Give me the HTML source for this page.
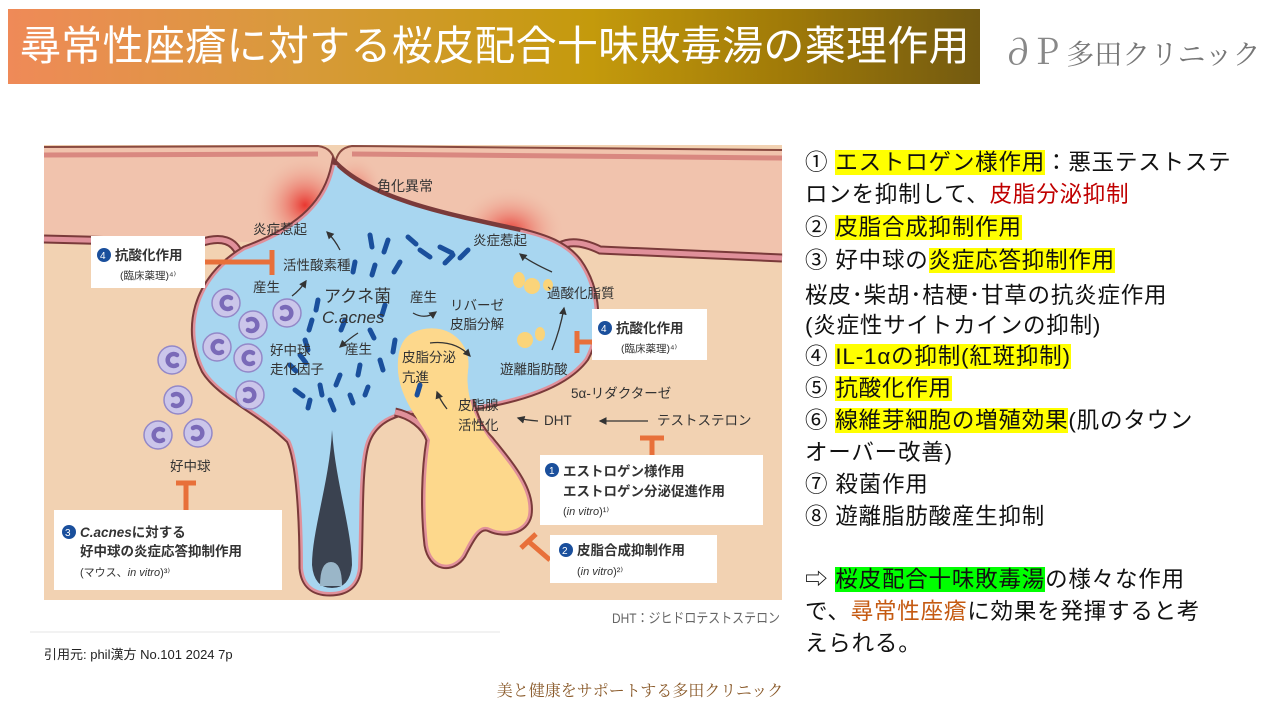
<!DOCTYPE html>
<html><head><meta charset="utf-8">
<style>
body{margin:0;width:1280px;height:720px;background:#fff;position:relative;overflow:hidden;font-family:"Liberation Sans","Noto Sans CJK JP",sans-serif;}
.title{position:absolute;left:8px;top:9px;width:972px;height:75px;background:linear-gradient(90deg,#ef8a58 0%,#d89a3a 30%,#c49a0c 60%,#a07a08 80%,#735a10 100%);}
.title span{position:absolute;left:12px;top:10px;color:#fff;font-size:41px;line-height:54px;letter-spacing:0.3px;white-space:nowrap;}
.logo{position:absolute;left:1000px;top:24px;font-family:"Noto Serif CJK SC","Liberation Serif",serif;font-size:28px;color:#777;white-space:nowrap;}
.r{position:absolute;left:805px;font-size:22.5px;letter-spacing:0.8px;white-space:nowrap;color:#111;line-height:30px;}
.y{background:#ffff00}
.g{background:#00ff00}
svg text{font-family:"Liberation Sans","Noto Sans CJK JP",sans-serif;}
</style></head><body>
<div class="title"><span>尋常性座瘡に対する桜皮配合十味敗毒湯の薬理作用</span></div>
<div class="logo"><span style="font-size:36px;color:#888">&#x2202;P</span> 多田クリニック</div>

<svg style="position:absolute;left:0;top:0" width="1280" height="720" viewBox="0 0 1280 720">
<defs>
<radialGradient id="rg1" cx="0.5" cy="0.5" r="0.5"><stop offset="0" stop-color="#e8302a" stop-opacity="0.95"/><stop offset="1" stop-color="#f0c2ad" stop-opacity="0"/></radialGradient>
<marker id="ar" markerWidth="6" markerHeight="6" refX="5" refY="3" orient="auto"><path d="M0,0 L6,3 L0,6 Z" fill="#333"/></marker>
</defs>
<rect x="44" y="145" width="738" height="455" fill="#f2d2b2"/>
<!-- epidermis -->
<path d="M44,147 L318,146 Q334,148 335,165 Q337,148 352,146 L782,150 L782,258 L590,250 L548,245 L250,242 L44,238 Z" fill="#f1c3ad"/>
<ellipse cx="305" cy="205" rx="50" ry="50" fill="url(#rg1)"/>
<ellipse cx="355" cy="195" rx="30" ry="40" fill="url(#rg1)" opacity="0.8"/>
<ellipse cx="510" cy="232" rx="55" ry="45" fill="url(#rg1)"/>
<path d="M44,147 L318,146 Q334,148 335,165 Q337,148 352,146 L782,150" fill="none" stroke="#8a4a40" stroke-width="2"/>
<path d="M44,155 L318,154 M352,154 L782,158" fill="none" stroke="#d98880" stroke-width="5"/>
<!-- epidermis bottom lines -->
<path d="M44,239 L200,243 Q232,232 240,256 M560,246 Q575,238 600,250 L782,258" fill="none" stroke="#7a3a3a" stroke-width="9"/>
<path d="M44,239 L200,243 Q232,232 240,256 M560,246 Q575,238 600,250 L782,258" fill="none" stroke="#e0909a" stroke-width="5"/>
<!-- pore -->
<path d="M335,165 C328,200 305,228 245,250 C195,280 185,330 205,370 C220,395 260,410 290,440 C300,460 303,520 303,568 Q305,592 330,592 Q355,592 358,568 C360,520 358,470 365,445 C372,420 395,410 420,410 L480,405 C520,398 565,385 585,358 C600,330 598,290 578,262 C565,245 545,238 520,232 C440,215 370,200 335,165 Z" fill="#a8d6f0" stroke="#7a3a3a" stroke-width="9"/>
<path d="M335,165 C328,200 305,228 245,250 C195,280 185,330 205,370 C220,395 260,410 290,440 C300,460 303,520 303,568 Q305,592 330,592 Q355,592 358,568 C360,520 358,470 365,445 C372,420 395,410 420,410 L480,405 C520,398 565,385 585,358 C600,330 598,290 578,262 C565,245 545,238 520,232" fill="none" stroke="#e0909a" stroke-width="5"/>
<path d="M335,165 C328,200 305,228 245,250 C195,280 185,330 205,370 C220,395 260,410 290,440 C300,460 303,520 303,568 Q305,592 330,592 Q355,592 358,568 C360,520 358,470 365,445 C372,420 395,410 420,410 L480,405 C520,398 565,385 585,358 C600,330 598,290 578,262 C565,245 545,238 520,232 C440,215 370,200 335,165 Z" fill="#a8d6f0"/>
<!-- gland -->
<path d="M420,330 C450,322 472,345 468,370 C465,395 475,420 490,440 C510,465 532,490 528,515 C525,530 505,535 490,528 C478,522 470,540 462,555 C452,570 432,568 428,545 C424,510 425,470 430,440 C420,420 400,400 398,370 C397,345 405,334 420,330 Z" fill="#fdd88c"/>
<path d="M470,400 C475,420 480,430 490,440 C510,465 532,490 528,515 C525,530 505,535 490,528 C478,522 470,540 462,555 C452,570 432,568 428,545 C424,510 425,470 430,440 C425,425 410,415 395,412" fill="none" stroke="#7a3a3a" stroke-width="9"/>
<path d="M470,400 C475,420 480,430 490,440 C510,465 532,490 528,515 C525,530 505,535 490,528 C478,522 470,540 462,555 C452,570 432,568 428,545 C424,510 425,470 430,440 C425,425 410,415 395,412" fill="none" stroke="#e0909a" stroke-width="5"/>
<path d="M420,330 C450,322 472,345 468,370 C465,395 475,420 490,440 C510,465 532,490 528,515 C525,530 505,535 490,528 C478,522 470,540 462,555 C452,570 432,568 428,545 C424,510 425,470 430,440 C420,420 400,400 398,370 C397,345 405,334 420,330 Z" fill="#fdd88c"/>
<!-- hair -->
<path d="M332,430 C330,480 312,530 312,565 Q314,588 332,588 Q350,588 352,565 C352,530 335,480 332,430 Z" fill="#3a4250"/>
<path d="M320,586 Q320,562 331,562 Q342,562 342,586 Z" fill="#9ab6c8"/>
<!-- oil droplets -->
<g fill="#fad47a"><ellipse cx="519" cy="280" rx="6" ry="8"/><ellipse cx="532" cy="286" rx="8" ry="8"/><ellipse cx="525" cy="340" rx="8" ry="8"/><ellipse cx="540" cy="334" rx="5" ry="7"/><ellipse cx="548" cy="285" rx="5" ry="6"/></g>
<!-- bacteria -->
<g stroke="#1a4f9c" stroke-width="5" stroke-linecap="round" fill="none">
<path d="M370,235 l2,12"/><path d="M388,240 l-4,12"/><path d="M408,237 l8,7"/><path d="M420,250 l10,7"/><path d="M440,247 l12,6"/><path d="M445,263 l8,-8"/><path d="M400,262 l-6,10"/><path d="M375,265 l-3,10"/><path d="M355,262 l-2,10"/><path d="M460,258 l8,-8"/>
<path d="M318,300 l-2,10"/><path d="M312,320 l-3,10"/><path d="M305,340 l3,10"/><path d="M345,320 l-4,10"/><path d="M370,330 l4,8"/><path d="M385,305 l-3,10"/><path d="M395,340 l-2,12"/><path d="M380,360 l3,10"/><path d="M360,365 l-2,10"/><path d="M340,375 l-4,10"/><path d="M320,385 l2,10"/><path d="M295,390 l8,6"/><path d="M310,400 l-2,8"/><path d="M330,400 l4,10"/><path d="M350,395 l3,8"/><path d="M365,395 l3,-8"/><path d="M300,355 l6,8"/><path d="M420,385 l-3,10"/><path d="M290,365 l6,6"/></g>
<!-- neutrophils -->
<g fill="#cbc6ea" stroke="#9388c8" stroke-width="1.5">
<circle cx="226" cy="303" r="14"/><circle cx="253" cy="325" r="14"/><circle cx="287" cy="313" r="14"/><circle cx="217" cy="347" r="14"/><circle cx="248" cy="358" r="14"/><circle cx="250" cy="395" r="14"/><circle cx="172" cy="360" r="14"/><circle cx="178" cy="400" r="14"/><circle cx="158" cy="435" r="14"/><circle cx="198" cy="433" r="14"/></g>
<g stroke="#7a6ab8" stroke-width="4.5" fill="none" stroke-linecap="round">
<path d="M231,298 a6,6 0 1 0 0,10"/><path d="M248,320 a6,6 0 1 1 0,10"/><path d="M282,308 a6,6 0 1 1 0,10"/><path d="M222,342 a6,6 0 1 0 0,10"/><path d="M253,353 a6,6 0 1 0 0,10"/><path d="M245,390 a6,6 0 1 1 0,10"/><path d="M177,355 a6,6 0 1 0 0,10"/><path d="M173,395 a6,6 0 1 1 0,10"/><path d="M163,430 a6,6 0 1 0 0,10"/><path d="M193,428 a6,6 0 1 1 0,10"/></g>
<!-- inhibitors -->
<g stroke="#e8703a" stroke-width="5" fill="none">
<path d="M205,262 L272,262 M272,250 L272,275"/>
<path d="M577,331 L577,353 M577,342 L592,342"/>
<path d="M640,438 L664,438 M652,438 L652,455"/>
<path d="M176,483 L196,483 M186,483 L186,510"/>
<path d="M521,548 L536,534 M528,541 L550,560"/>
</g>
<!-- arrows -->
<g stroke="#333" stroke-width="1.3" fill="none" marker-end="url(#ar)">
<path d="M340,250 Q335,240 327,232"/><path d="M292,296 Q300,290 306,281"/><path d="M413,313 Q425,320 436,312"/><path d="M358,333 Q350,338 340,347"/>
<path d="M430,343 Q455,340 470,356"/><path d="M552,272 Q530,262 520,254"/><path d="M552,350 Q560,330 564,308"/>
<path d="M447,409 Q440,400 437,392"/><path d="M538,421 Q525,420 518,418"/><path d="M648,421 L600,421"/>
</g>
<!-- labels -->
<g font-size="13.5" fill="#333">
<text x="377" y="191" font-size="14">角化異常</text>
<text x="253" y="234">炎症惹起</text>
<text x="283" y="270">活性酸素種</text>
<text x="253" y="292">産生</text>
<text x="324" y="302" font-size="17">アクネ菌</text>
<text x="322" y="323" font-size="17" font-style="italic">C.acnes</text>
<text x="410" y="302">産生</text>
<text x="450" y="310">リバーゼ</text>
<text x="450" y="329">皮脂分解</text>
<text x="270" y="355">好中球</text>
<text x="270" y="374">走化因子</text>
<text x="345" y="354">産生</text>
<text x="402" y="362">皮脂分泌</text>
<text x="402" y="382">亢進</text>
<text x="473" y="245">炎症惹起</text>
<text x="547" y="298">過酸化脂質</text>
<text x="500" y="374">遊離脂肪酸</text>
<text x="571" y="398">5α-リダクターゼ</text>
<text x="458" y="410">皮脂腺</text>
<text x="458" y="430">活性化</text>
<text x="544" y="425">DHT</text>
<text x="657" y="425">テストステロン</text>
<text x="170" y="471">好中球</text>
<text x="612" y="623" font-size="14" fill="#666" textLength="168" lengthAdjust="spacingAndGlyphs">DHT：ジヒドロテストステロン</text>
</g>
<!-- boxes -->
<g fill="#fff"><rect x="91" y="236" width="114" height="52"/><rect x="592" y="309" width="115" height="51"/><rect x="540" y="455" width="223" height="70"/><rect x="550" y="535" width="167" height="48"/><rect x="54" y="510" width="228" height="80"/></g>
<g fill="#333" font-size="13.5">
<circle cx="104" cy="255" r="7" fill="#1a4f9c"/><text x="100" y="259" font-size="10" fill="#fff">4</text><text x="115" y="260" font-weight="bold">抗酸化作用</text><text x="120" y="279" font-size="10.5">(臨床薬理)⁴⁾</text>
<circle cx="605" cy="328" r="7" fill="#1a4f9c"/><text x="601" y="332" font-size="10" fill="#fff">4</text><text x="616" y="333" font-weight="bold">抗酸化作用</text><text x="621" y="352" font-size="10.5">(臨床薬理)⁴⁾</text>
<circle cx="552" cy="470" r="7" fill="#1a4f9c"/><text x="549" y="474" font-size="10" fill="#fff">1</text><text x="563" y="476" font-weight="bold">エストロゲン様作用</text><text x="563" y="496" font-weight="bold">エストロゲン分泌促進作用</text><text x="563" y="515" font-size="11">(<tspan font-style="italic">in vitro</tspan>)¹⁾</text>
<circle cx="566" cy="550" r="7" fill="#1a4f9c"/><text x="562" y="554" font-size="10" fill="#fff">2</text><text x="577" y="555" font-weight="bold">皮脂合成抑制作用</text><text x="577" y="575" font-size="11">(<tspan font-style="italic">in vitro</tspan>)²⁾</text>
<circle cx="69" cy="532" r="7" fill="#1a4f9c"/><text x="65" y="536" font-size="10" fill="#fff">3</text><text x="80" y="537" font-weight="bold"><tspan font-style="italic">C.acnes</tspan>に対する</text><text x="80" y="556" font-weight="bold">好中球の炎症応答抑制作用</text><text x="80" y="576" font-size="11">(マウス、<tspan font-style="italic">in vitro</tspan>)³⁾</text>
</g>
<line x1="30" y1="632" x2="500" y2="632" stroke="#e4e4e4" stroke-width="1"/>
</svg>

<div style="position:absolute;left:44px;top:644px;font-size:13px;color:#222;">引用元: phil漢方 No.101 2024 7p</div>
<div style="position:absolute;left:0;width:1280px;top:678px;text-align:center;font-size:16px;color:#8a5a2a;font-family:'Noto Serif CJK SC','Liberation Serif',serif;">美と健康をサポートする多田クリニック</div>

<div class="r" style="top:148px">① <span class="y">エストロゲン様作用</span>：悪玉テストステ</div>
<div class="r" style="top:180px">ロンを抑制して、<span style="color:#c00000">皮脂分泌抑制</span></div>
<div class="r" style="top:213px">② <span class="y">皮脂合成抑制作用</span></div>
<div class="r" style="top:246px">③ 好中球の<span class="y">炎症応答抑制作用</span></div>
<div class="r" style="top:281px">桜皮･柴胡･桔梗･甘草の抗炎症作用</div>
<div class="r" style="top:311px">(炎症性サイトカインの抑制)</div>
<div class="r" style="top:342px">④ <span class="y">IL-1αの抑制(紅斑抑制)</span></div>
<div class="r" style="top:374px">⑤ <span class="y">抗酸化作用</span></div>
<div class="r" style="top:406px">⑥ <span class="y">線維芽細胞の増殖効果</span>(肌のタウン</div>
<div class="r" style="top:438px">オーバー改善)</div>
<div class="r" style="top:470px">⑦ 殺菌作用</div>
<div class="r" style="top:502px">⑧ 遊離脂肪酸産生抑制</div>
<div class="r" style="top:565px">⇨ <span class="g">桜皮配合十味敗毒湯</span>の様々な作用</div>
<div class="r" style="top:597px">で、<span style="color:#c55a11">尋常性座瘡</span>に効果を発揮すると考</div>
<div class="r" style="top:629px">えられる。</div>
</body></html>
